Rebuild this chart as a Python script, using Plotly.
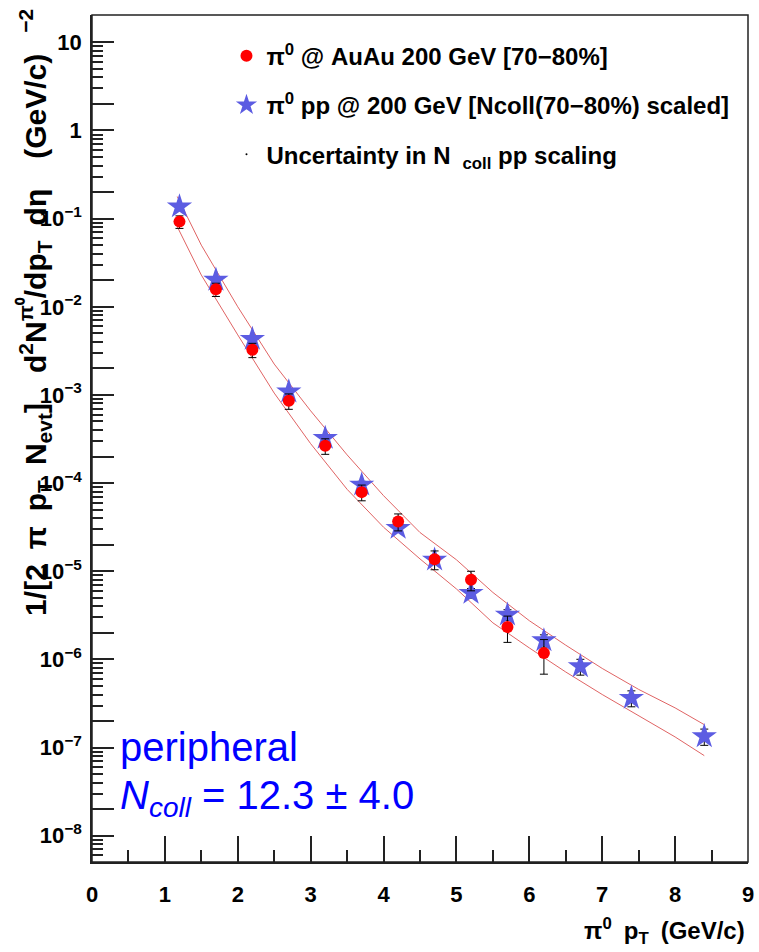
import plotly.graph_objects as go

# ---------------- data ----------------
auau_pt = [1.2, 1.7, 2.2, 2.7, 3.2, 3.7, 4.2, 4.7, 5.2, 5.7, 6.2]
auau_y = [9.25e-2, 1.58e-2, 3.25e-3, 8.57e-4, 2.65e-4, 7.9e-5, 3.67e-5, 1.37e-5, 8.0e-6, 2.33e-6, 1.18e-6]
auau_err = [1.5e-2, 2.7e-3, 6.0e-4, 1.7e-4, 5.3e-5, 1.6e-5, 8.0e-6, 3.3e-6, 2.0e-6, 7.7e-7, 5.0e-7]

pp_pt = [1.2, 1.7, 2.2, 2.7, 3.2, 3.7, 4.2, 4.7, 5.2, 5.7, 6.2, 6.7, 7.4, 8.4]
pp_y = [1.37e-1, 2.02e-2, 4.3e-3, 1.09e-3, 3.24e-4, 9.57e-5, 3.09e-5, 1.35e-5, 5.66e-6, 3.21e-6,
        1.64e-6, 8.33e-7, 3.65e-7, 1.34e-7]
pp_err = [1.1e-2, 1.6e-3, 3.4e-4, 9.0e-5, 2.8e-5, 9.0e-6, 3.1e-6, 1.5e-6, 7.0e-7, 4.5e-7,
          2.6e-7, 1.7e-7, 7.5e-8, 2.8e-8]

band_pt = [1.17, 1.5, 2.0, 2.5, 3.0, 3.5, 4.0, 4.5, 5.0, 5.5, 6.0, 6.5, 7.0, 7.5, 8.0, 8.4]
band_upper = [1.78e-1, 5.0e-2, 1.0e-2, 2.24e-3, 6.6e-4, 2.09e-4, 7.2e-5, 2.75e-5, 1.35e-5, 5.75e-6,
              2.75e-6, 1.45e-6, 7.9e-7, 4.57e-7, 2.82e-7, 1.82e-7]
band_lower = [8.1e-2, 2.29e-2, 4.8e-3, 1.05e-3, 2.8e-4, 8.5e-5, 3.16e-5, 1.38e-5, 6.3e-6, 2.6e-6,
              1.35e-6, 7.2e-7, 4.0e-7, 2.3e-7, 1.32e-7, 8.1e-8]

x_ticks = [0, 1, 2, 3, 4, 5, 6, 7, 8, 9]
x_minor = [0.5, 1.5, 2.5, 3.5, 4.5, 5.5, 6.5, 7.5, 8.5]
decades = list(range(-8, 2))
y_tick_labels = {1: "10", 0: "1"}

# ---------------- figure ----------------
FONT = "Liberation Sans, Arial, Helvetica, sans-serif"
AX = "#222222"
SP = "\u2002"  # en space used for the wide ROOT-style spacing

fig = go.Figure()

fig.add_trace(go.Scatter(x=band_pt, y=band_upper, mode="lines",
                         line=dict(color="#e06464", width=1), showlegend=False, hoverinfo="skip"))
fig.add_trace(go.Scatter(x=band_pt, y=band_lower, mode="lines",
                         line=dict(color="#e06464", width=1), showlegend=False, hoverinfo="skip"))

fig.add_trace(go.Scatter(x=pp_pt, y=pp_y, mode="markers",
                         name="π<sup>0</sup> pp @ 200 GeV [Ncoll(70−80%) scaled]",
                         legendrank=2, legendgroup="b",
                         marker=dict(symbol="star", size=19, color="#5c5ce2", line=dict(width=0)),
                         error_y=dict(type="data", array=pp_err, color="black", thickness=1, width=4)))

fig.add_trace(go.Scatter(x=auau_pt, y=auau_y, mode="markers",
                         name="π<sup>0</sup> @ AuAu 200 GeV [70−80%]",
                         legendrank=1, legendgroup="a",
                         marker=dict(symbol="circle", size=12, color="#ff0000", line=dict(width=0)),
                         error_y=dict(type="data", array=auau_err, color="black", thickness=1, width=4)))

fig.add_trace(go.Scatter(x=[None], y=[None], mode="markers",
                         name="Uncertainty in N" + SP + "<sub>coll</sub> pp scaling",
                         legendrank=3, legendgroup="c",
                         marker=dict(size=2, color="black")))

y_tickvals, y_ticktext, y_minor = [], [], []
for d in decades:
    y_tickvals.append(10.0 ** d)
    y_ticktext.append(y_tick_labels.get(d, "10<sup>−%d</sup>" % (-d)))
    y_tickvals.append(2 * 10.0 ** d)
    y_ticktext.append("")
    for m in range(3, 10):
        y_minor.append(m * 10.0 ** d)
for m in range(5, 10):
    y_minor.append(m * 10.0 ** -9)

fig.update_layout(
    width=759, height=952,
    margin=dict(l=92, r=5, t=15, b=90),
    paper_bgcolor="white", plot_bgcolor="white",
    font=dict(family=FONT, color="black"),
    showlegend=True,
    legend=dict(x=0.205, y=0.978, xanchor="left", yanchor="top",
                bgcolor="rgba(0,0,0,0)", borderwidth=0,
                font=dict(family=FONT, size=24, color="black", weight="bold"),
                tracegroupgap=15, itemsizing="trace", traceorder="grouped"),
    xaxis=dict(range=[0, 9], tickmode="array", tickvals=x_ticks,
               ticks="inside", ticklen=26, tickwidth=1.5, tickcolor=AX,
               showgrid=False, zeroline=False, showline=True, linecolor=AX, linewidth=1.5,
               tickfont=dict(family=FONT, size=22, weight="bold", color="black"),
               ticklabelstandoff=12, ticklabeloverflow="allow",
               minor=dict(tickvals=x_minor, ticks="inside", ticklen=12, tickwidth=1.5, tickcolor=AX,
                          showgrid=False)),
    yaxis=dict(type="log", range=[-8.298, 1.31], tickmode="array",
               tickvals=y_tickvals, ticktext=y_ticktext,
               ticks="inside", ticklen=22, tickwidth=1.5, tickcolor=AX,
               showgrid=False, zeroline=False, showline=True, linecolor=AX, linewidth=1.5,
               tickfont=dict(family=FONT, size=22, weight="bold", color="black"),
               ticklabelstandoff=4, ticklabeloverflow="allow",
               minor=dict(tickvals=y_minor, ticks="inside", ticklen=11, tickwidth=1.5, tickcolor=AX,
                          showgrid=False)),
    shapes=[dict(type="rect", xref="paper", yref="paper", x0=0, x1=1, y0=0, y1=1,
                 line=dict(color=AX, width=1.5), fillcolor="rgba(0,0,0,0)", layer="above")],
)

fig.add_annotation(xref="paper", yref="paper", x=0.039, y=0.136, xanchor="left", yanchor="middle",
                   text="peripheral", showarrow=False,
                   font=dict(family=FONT, size=40, color="#0000ff"))
fig.add_annotation(xref="paper", yref="paper", x=0.039, y=0.075, xanchor="left", yanchor="middle",
                   text="<i>N</i><sub><i>coll</i></sub> = 12.3 ± 4.0", showarrow=False,
                   font=dict(family=FONT, size=40, color="#0000ff"))

S2 = SP + SP
ytitle = ("1/[2" + SP + "π" + SP + "p<sub>T</sub>" + SP + "N<sub>evt</sub>]" + S2 + "d<sup>2</sup>N<sup>π⁰</sup>"
          + "/dp<sub>T</sub>" + SP + "dη" + S2 + "(GeV/c)<sup>" + S2 + "−2</sup>")
fig.add_annotation(xref="paper", yref="paper", x=-0.086, y=0.649, xanchor="center", yanchor="middle",
                   textangle=-90, showarrow=False, text=ytitle,
                   font=dict(family=FONT, size=30, weight="bold", color="black"))

fig.add_annotation(xref="paper", yref="paper", x=0.998, y=-0.082, xanchor="right", yanchor="middle",
                   showarrow=False, text="π<sup>0</sup>" + SP + "p<sub>T</sub>" + SP + "(GeV/c)",
                   font=dict(family=FONT, size=24, weight="bold", color="black"))

fig.write_html("out.html")
